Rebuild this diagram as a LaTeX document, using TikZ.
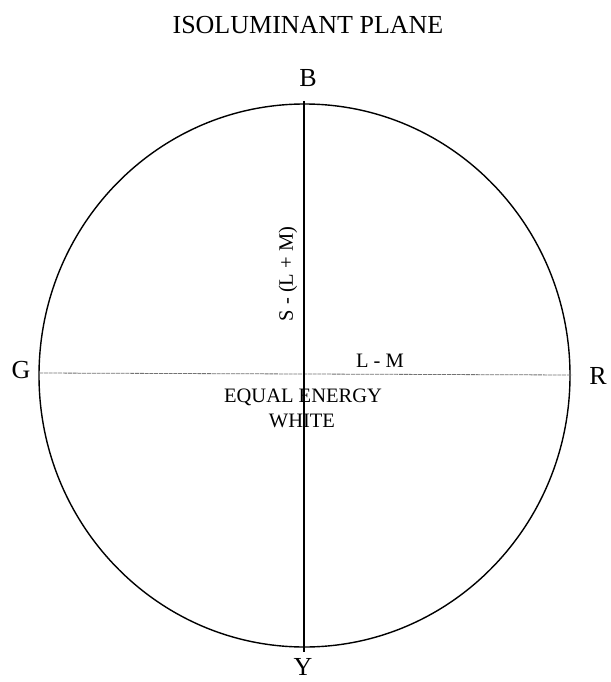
\documentclass[tikz,border=0pt]{standalone}
\usepackage{fontspec}
\setmainfont{Liberation Serif}
\begin{document}
\begin{tikzpicture}[x=1pt,y=-1pt,
  biglabel/.style={inner sep=0pt,font=\fontsize{26}{28}\selectfont},
  smalllabel/.style={inner sep=0pt,font=\fontsize{20.5}{23}\selectfont},
  axisline/.style={line width=1.2pt,black},
  hueline/.style={line width=0.8pt,black!55,dash pattern=on 4pt off 0.8pt},
  rim/.style={line width=1.4pt,black}]
\useasboundingbox (0,0) rectangle (610,682);
\fill[white] (0,0) rectangle (610,682);
% circle
\draw[rim] (304.5,375.5) ellipse [x radius=265.5, y radius=271.5];
% axes
\coordinate (top) at (304,101);
\coordinate (bot) at (304,652);
\coordinate (left) at (39,373);
\coordinate (right) at (572,375);
\draw[hueline] (left) -- (right);
\draw[axisline] (top) -- (bot);
% labels
\node[biglabel] (title) at (308,25) {ISOLUMINANT PLANE};
\node[biglabel] (B) at (308,78) {B};
\node[biglabel] (G) at (21,370) {G};
\node[biglabel] (R) at (598,376) {R};
\node[biglabel] (Y) at (303,667) {Y};
\node[smalllabel] (LM) at (380,361) {L - M};
\node[smalllabel] (eq) at (303,397) {EQUAL ENERGY};
\node[smalllabel] (wh) at (302,421) {WHITE};
\node[smalllabel,rotate=90] (SLM) at (288,274) {S - (L + M)};
\end{tikzpicture}
\end{document}
